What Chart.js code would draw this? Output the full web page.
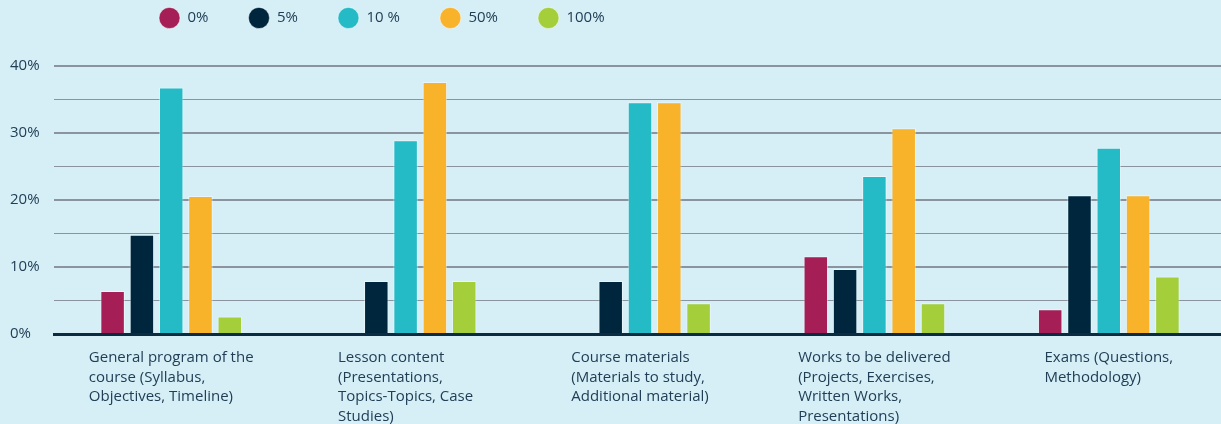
<!DOCTYPE html>
<html>
<head>
<meta charset="utf-8">
<script src="https://cdn.jsdelivr.net/npm/chart.js@4.4.1/dist/chart.umd.min.js"></script>
<style>
  html, body { margin: 0; padding: 0; background: #d6eff7; overflow: hidden; }
  #chartContainer { position: relative; width: 1226px; height: 424px; }
</style>
</head>
<body>
<div id="chartContainer"><canvas id="surveyChart"></canvas></div>
<script>
// categories, wrapped the same way as the picture
const categories = [
  ['General program of the', 'course (Syllabus,', 'Objectives, Timeline)'],
  ['Lesson content', '(Presentations,', 'Topics-Topics, Case', 'Studies)'],
  ['Course materials', '(Materials to study,', 'Additional material)'],
  ['Works to be delivered', '(Projects, Exercises,', 'Written Works,', 'Presentations)'],
  ['Exams (Questions,', 'Methodology)']
];
const seriesNames = ['0%', '5%', '10 %', '50%', '100%'];
const share0 = [6.4, 0, 0, 11.6, 3.7];
const share5 = [14.8, 7.9, 7.9, 9.7, 20.7];
const share10 = [36.8, 28.9, 34.6, 23.6, 27.8];
const share50 = [20.6, 37.6, 34.6, 30.7, 20.7];
const share100 = [2.6, 7.9, 4.6, 4.6, 8.6];
const yTickLabels = ['0%', '10%', '20%', '30%', '40%'];

const colors = ['#a51e56', '#00263e', '#25bbc6', '#f8b32b', '#a4ce3a'];
const textColor = '#213e55';
const fontFamily = '"Open Sans", sans-serif';

// legend sits left of centre in the original, push it there after layout
const legendShift = {
  id: 'legendShift',
  afterLayout(chart) {
    chart.legend.left = 119;
    chart.legend.top = -29.5;
  }
};

// x labels: block centred under the group, lines left aligned
const categoryLabels = {
  id: 'categoryLabels',
  afterDraw(chart) {
    const { ctx, chartArea } = chart;
    const x = chart.scales.x;
    ctx.save();
    ctx.font = '15px ' + fontFamily;
    ctx.fillStyle = textColor;
    ctx.textAlign = 'left';
    ctx.textBaseline = 'alphabetic';
    categories.forEach((lines, i) => {
      const cx = x.getPixelForValue(i);
      const w = Math.max(...lines.map(l => ctx.measureText(l).width));
      lines.forEach((line, k) => {
        ctx.fillText(line, cx - w / 2, chartArea.bottom + 28 + k * 19.5);
      });
    });
    ctx.restore();
  }
};

const allSeries = [share0, share5, share10, share50, share100];

const ctx = document.getElementById('surveyChart').getContext('2d');
new Chart(ctx, {
  type: 'bar',
  data: {
    labels: categories.map(c => c.join(' ')),
    datasets: allSeries.map((vals, i) => ({
      label: seriesNames[i],
      data: vals,
      backgroundColor: colors[i],
      borderColor: 'rgba(255,255,255,0.45)',
      borderWidth: 1,
      categoryPercentage: 0.625,
      barPercentage: 0.836
    }))
  },
  options: {
    responsive: true,
    maintainAspectRatio: false,
    animation: false,
    layout: { padding: { top: 1, left: 10, right: 0, bottom: 0 } },
    plugins: {
      tooltip: { enabled: false },
      legend: {
        position: 'top',
        align: 'start',
        labels: {
          usePointStyle: true,
          pointStyle: 'circle',
          pointStyleWidth: 21,
          padding: 40,
          color: textColor,
          font: { family: fontFamily, size: 15 }
        }
      }
    },
    scales: {
      x: {
        grid: { display: false },
        border: { display: true, color: '#0a2b40', width: 3, z: 1 },
        ticks: { display: false },
        afterFit(scale) { scale.height = 90; }
      },
      y: {
        min: 0,
        max: 40,
        border: { display: false },
        grid: {
          color: '#8b949e',
          drawTicks: false,
          lineWidth: c => (c.tick && c.tick.value % 10 === 0 ? 2 : 1)
        },
        ticks: {
          stepSize: 5,
          crossAlign: 'far',
          color: textColor,
          font: { family: fontFamily, size: 15 },
          callback: v => (v % 10 === 0 ? yTickLabels[v / 10] : '')
        },
        afterFit(scale) { scale.width = 44; }
      }
    }
  },
  plugins: [legendShift, categoryLabels]
});
</script>
</body>
</html>
